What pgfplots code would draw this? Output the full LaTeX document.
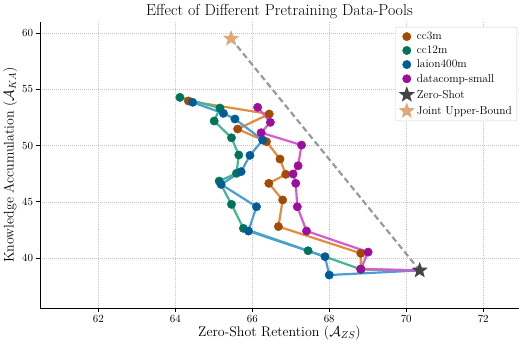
\documentclass[border=0pt]{standalone}
\usepackage{pgfplots}
\pgfplotsset{compat=1.18}
\definecolor{ccthreeM}{HTML}{A34A03}
\definecolor{ccthreeL}{HTML}{E38C40}
\definecolor{cctwelveM}{HTML}{00735A}
\definecolor{cctwelveL}{HTML}{45B690}
\definecolor{laionM}{HTML}{005B96}
\definecolor{laionL}{HTML}{4A9ED4}
\definecolor{dcM}{HTML}{9C0F9C}
\definecolor{dcL}{HTML}{D65AD0}
\definecolor{zsC}{HTML}{444444}
\definecolor{jubC}{HTML}{E0A878}
\pgfdeclareplotmark{fstar}{%
  \pgfpathmoveto{\pgfpointpolar{90}{\pgfplotmarksize}}%
  \pgfpathlineto{\pgfpointpolar{126}{0.42\pgfplotmarksize}}%
  \pgfpathlineto{\pgfpointpolar{162}{\pgfplotmarksize}}%
  \pgfpathlineto{\pgfpointpolar{198}{0.42\pgfplotmarksize}}%
  \pgfpathlineto{\pgfpointpolar{234}{\pgfplotmarksize}}%
  \pgfpathlineto{\pgfpointpolar{270}{0.42\pgfplotmarksize}}%
  \pgfpathlineto{\pgfpointpolar{306}{\pgfplotmarksize}}%
  \pgfpathlineto{\pgfpointpolar{342}{0.42\pgfplotmarksize}}%
  \pgfpathlineto{\pgfpointpolar{18}{\pgfplotmarksize}}%
  \pgfpathlineto{\pgfpointpolar{54}{0.42\pgfplotmarksize}}%
  \pgfpathclose
  \pgfusepathqfill}
\begin{document}
\begin{tikzpicture}
\begin{axis}[
  at={(0,0)}, anchor=south west,
  scale only axis, width=479bp, height=286bp,
  xmin=60.485, xmax=72.93, ymin=35.56, ymax=60.98,
  axis lines=left, axis line style={-, line width=0.8pt},
  xtick={62,64,...,72}, ytick={40,45,...,60},
  tick align=outside, major tick length=3.5bp,
  tick style={black, line width=0.6pt},
  grid=major, major grid style={gray!45, line width=0.5pt, dash pattern=on 0.8pt off 1.2pt},
  ticklabel style={font=\fontsize{11}{13}\selectfont},
  xlabel={Zero-Shot Retention ($\mathcal{A}_{ZS}$)},
  ylabel={Knowledge Accumulation ($\mathcal{A}_{KA}$)},
  label style={font=\fontsize{14}{16}\selectfont},
  xlabel style={yshift=3bp},
  ylabel style={yshift=-2bp},
  title={Effect of Different Pretraining Data-Pools},
  title style={font=\fontsize{16}{19}\selectfont, yshift=-6bp},
  legend style={at={(0.996,0.983)}, anchor=north east, draw=gray!35, rounded corners=2pt,
    font=\fontsize{11.5}{13.5}\selectfont, row sep=0.8pt, inner sep=3pt},
  legend cell align=left,
  clip=false,
]
% lines
\addplot[ccthreeL, line width=2.2pt, forget plot] coordinates {
(70.35,38.9) (68.82,39.0) (68.82,40.42) (66.68,42.80) (66.79,45.16) (66.43,46.64) (66.87,47.44) (66.72,48.80) (66.37,50.34) (65.62,51.47) (66.44,52.80) (64.34,53.96)};
\addplot[cctwelveL, line width=2.2pt, forget plot] coordinates {
(70.35,38.9) (68.82,39.0) (67.45,40.65) (65.77,42.64) (65.46,44.77) (65.14,46.84) (65.59,47.53) (65.65,49.16) (65.46,50.69) (65.01,52.18) (65.16,53.33) (64.12,54.28)};
\addplot[laionL, line width=2.2pt, forget plot] coordinates {
(70.35,38.9) (68.00,38.49) (67.89,40.12) (65.90,42.40) (66.11,44.56) (65.19,46.55) (65.71,47.68) (65.94,49.13) (66.27,50.49) (65.55,52.36) (65.25,52.86) (64.45,53.84)};
\addplot[dcL, line width=2.2pt, forget plot] coordinates {
(70.35,38.9) (68.82,39.02) (69.01,40.53) (67.41,42.40) (67.17,44.56) (67.13,46.64) (67.06,47.47) (67.19,48.20) (67.28,50.04) (66.23,51.14) (66.47,52.06) (66.14,53.40)};
% markers
\addplot[only marks, mark=*, mark size=4.2bp, color=ccthreeM] coordinates {
(68.82,39.0) (68.82,40.42) (66.68,42.80) (66.79,45.16) (66.43,46.64) (66.87,47.44) (66.72,48.80) (66.37,50.34) (65.62,51.47) (66.44,52.80) (64.34,53.96)};
\addlegendentry{cc3m}
\addplot[only marks, mark=*, mark size=4.2bp, color=cctwelveM] coordinates {
(68.82,39.0) (67.45,40.65) (65.77,42.64) (65.46,44.77) (65.14,46.84) (65.59,47.53) (65.65,49.16) (65.46,50.69) (65.01,52.18) (65.16,53.33) (64.12,54.28)};
\addlegendentry{cc12m}
\addplot[only marks, mark=*, mark size=4.2bp, color=laionM] coordinates {
(68.00,38.49) (67.89,40.12) (65.90,42.40) (66.11,44.56) (65.19,46.55) (65.71,47.68) (65.94,49.13) (66.27,50.49) (65.55,52.36) (65.25,52.86) (64.45,53.84)};
\addlegendentry{laion400m}
\addplot[only marks, mark=*, mark size=4.2bp, color=dcM] coordinates {
(68.82,39.02) (69.01,40.53) (67.41,42.40) (67.17,44.56) (67.13,46.64) (67.06,47.47) (67.19,48.20) (67.28,50.04) (66.23,51.14) (66.47,52.06) (66.14,53.40)};
\addlegendentry{datacomp-small}
% dashed line
\addplot[gray!80, line width=2.2pt, dash pattern=on 6pt off 3.5pt, forget plot] coordinates {(65.45,59.5) (70.35,38.9)};
\addplot[only marks, mark=fstar, mark size=8.5bp, color=zsC] coordinates {(70.35,38.9)};
\addlegendentry{Zero-Shot}
\addplot[only marks, mark=fstar, mark size=8.5bp, color=jubC] coordinates {(65.45,59.5)};
\addlegendentry{Joint Upper-Bound}
\end{axis}
\pgfresetboundingbox
\path[use as bounding box] (-40bp,-32bp) rectangle (479bp,308bp);
\end{tikzpicture}
\end{document}
